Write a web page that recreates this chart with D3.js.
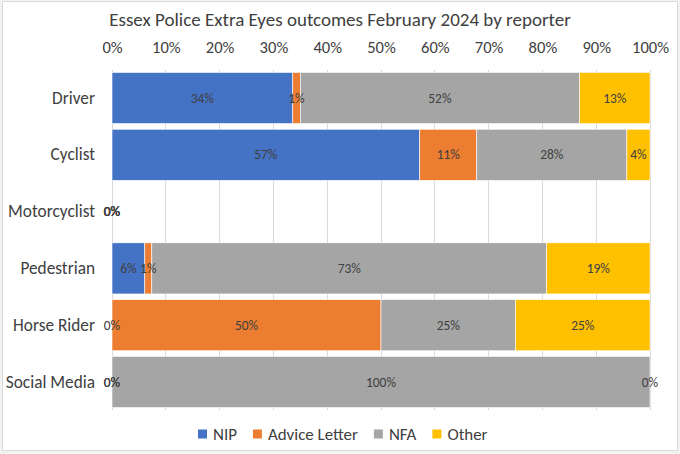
<!DOCTYPE html>
<html><head><meta charset="utf-8">
<script src="https://cdn.jsdelivr.net/npm/d3@7"></script>
<style>html,body{margin:0;padding:0;background:#f2f2f2;}svg{display:block;}</style>
</head><body>
<svg id="c" width="680" height="454"></svg>
<script>
const categories = ["Driver","Cyclist","Motorcyclist","Pedestrian","Horse Rider","Social Media"];
const seriesNames = ["NIP","Advice Letter","NFA","Other"];
const nip      = [33.6, 57.2, 0, 6.1, 0, 0];
const advice   = [1.4, 10.6, 0, 1.3, 50, 0];
const nfa      = [51.9, 27.9, 0, 73.4, 25, 100];
const other    = [13.1, 4.3, 0, 19.2, 25, 0];
const xTicks   = [0,10,20,30,40,50,60,70,80,90,100];
const colors   = ["#4472C4","#ED7D31","#A5A5A5","#FFC000"];
const title    = "Essex Police Extra Eyes outcomes February 2024 by reporter";

const seriesVals = [nip, advice, nfa, other];
const svg = d3.select("#c");
const font = "Carlito, Lato, 'Open Sans', sans-serif";

function fitSize(str, target){
  const t = svg.append("text").attr("font-family",font).attr("font-size",20).text(str);
  const w = t.node().getComputedTextLength(); t.remove();
  return 20*target/w;
}
const titleSize = fitSize(title, 462);
const catSize = fitSize("Motorcyclist", 87);
const tickSize = fitSize("100%", 37);
const labelSize = fitSize("100%", 30);
const legendSize = fitSize("Advice Letter", 90);

svg.append("rect").attr("x",2.5).attr("y",1.5).attr("width",675).attr("height",449)
  .attr("fill","#fff").attr("stroke","#d9d9d9");

const x = d3.scaleLinear().domain([0,100]).range([112,650]);
const y = d3.scaleBand().domain(categories).range([69.6,410.4]).paddingInner(0.1).paddingOuter(0.05);

svg.append("text").attr("x",340).attr("y",26).attr("text-anchor","middle")
  .attr("font-family",font).attr("font-size",titleSize).attr("fill","#404040").text(title);

svg.append("g").selectAll("line").data(xTicks).join("line")
  .attr("x1",d=>x(d)).attr("x2",d=>x(d)).attr("y1",69.6).attr("y2",410.4)
  .attr("stroke","#d9d9d9").attr("stroke-width",1).attr("shape-rendering","crispEdges");

const ax = svg.append("g").attr("transform","translate(0,69)")
  .call(d3.axisTop(x).tickValues(xTicks).tickFormat(d=>d+"%").tickSize(0).tickPadding(16));
ax.select(".domain").remove();
ax.selectAll("text").attr("font-family",font).attr("font-size",tickSize).attr("fill","#404040");

const ay = svg.append("g").attr("transform","translate(112,0)")
  .call(d3.axisLeft(y).tickSize(0).tickPadding(17));
ay.select(".domain").remove();
ay.selectAll("text").attr("font-family",font).attr("font-size",catSize).attr("fill","#404040");

const rows = categories.map((c,i)=>{const o={cat:c}; seriesNames.forEach((s,j)=>o[s]=seriesVals[j][i]); return o;});
const stack = d3.stack().keys(seriesNames)(rows);
const fmt = v => Math.round(v) + "%";

stack.forEach((layer,j)=>{
  svg.append("g").selectAll("rect").data(layer).join("rect")
    .attr("x",d=>x(d[0])).attr("width",d=>Math.max(0,x(d[1])-x(d[0])))
    .attr("y",d=>y(d.data.cat)).attr("height",y.bandwidth())
    .attr("fill",colors[j]).attr("stroke","#fff").attr("stroke-width",0.6);
});
stack.forEach((layer,j)=>{
  svg.append("g").selectAll("text").data(layer).join("text")
    .attr("x",d=>x((d[0]+d[1])/2)).attr("y",d=>y(d.data.cat)+y.bandwidth()/2+4.5)
    .attr("text-anchor","middle").attr("font-family",font).attr("font-size",labelSize).attr("fill","#404040")
    .text(d=>fmt(d[1]-d[0]));
});

const lg = svg.append("g").attr("transform","translate(0,434)");
let lx = 198;
seriesNames.forEach((s,i)=>{
  const g = lg.append("g").attr("transform",`translate(${lx},0)`);
  g.append("rect").attr("x",0).attr("y",-4.5).attr("width",9).attr("height",9).attr("fill",colors[i]);
  const t = g.append("text").attr("x",15).attr("y",6).attr("font-family",font).attr("font-size",legendSize)
    .attr("fill","#404040").text(s);
  lx += 15 + t.node().getComputedTextLength() + 16;
});
</script>
</body></html>
